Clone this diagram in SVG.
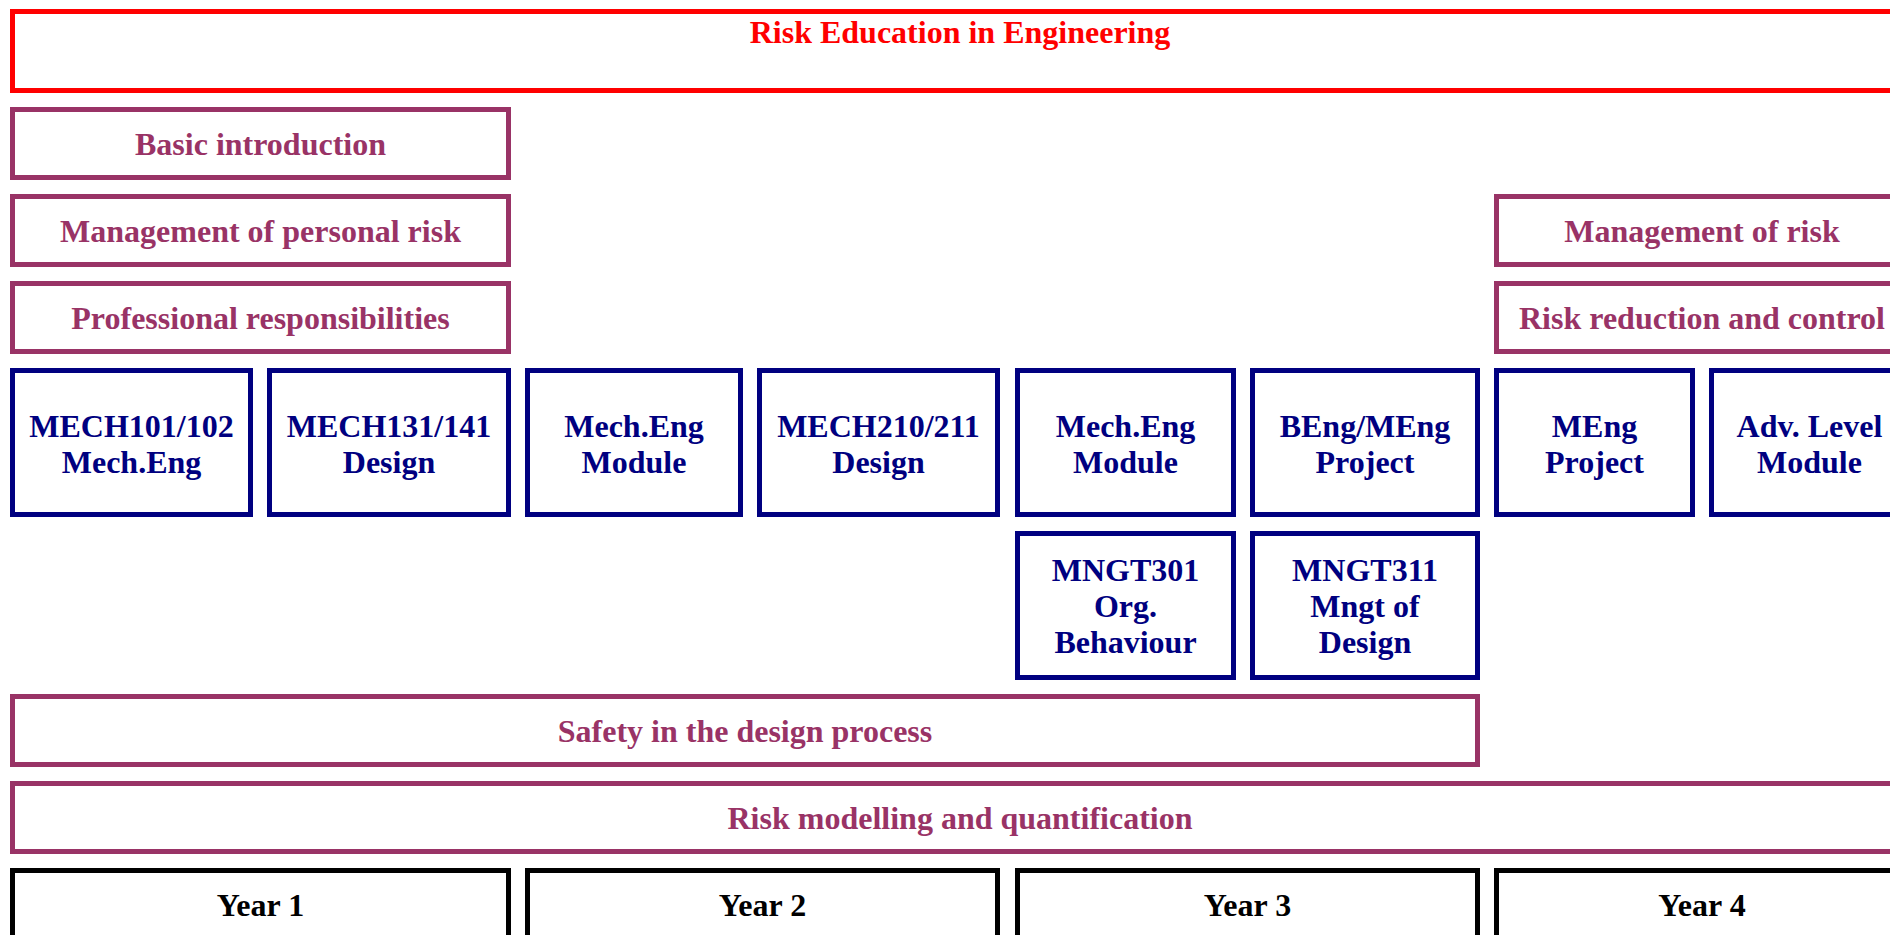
<svg xmlns="http://www.w3.org/2000/svg" width="1890" height="935" viewBox="0 0 1890 935">
<style>
rect{fill:#fff;stroke-width:5}
.t{stroke:#ff0000}
.p{stroke:#993366}
.c{stroke:#000080}
.y{stroke:#000}
text{font-family:"Liberation Serif","Times New Roman",serif;font-weight:bold;font-size:32px;text-anchor:middle}
.tt{fill:#ff0000}
.pt{fill:#993366}
.ct{fill:#000080}
.yt{fill:#000}
</style>
<rect width="1890" height="935" style="fill:#fff;stroke:none"/>
<g id="title"><rect class="t" x="12.5" y="11.5" width="1895" height="79"/><text class="tt" x="960" y="43">Risk Education in Engineering</text></g>
<g id="basic"><rect class="p" x="12.5" y="109.5" width="496" height="68"/><text class="pt" x="260.5" y="155">Basic introduction</text></g>
<g id="personal"><rect class="p" x="12.5" y="196.5" width="496" height="68"/><text class="pt" x="260.5" y="242">Management of personal risk</text></g>
<g id="professional"><rect class="p" x="12.5" y="283.5" width="496" height="68"/><text class="pt" x="260.5" y="329">Professional responsibilities</text></g>
<g id="mgmtrisk"><rect class="p" x="1496.5" y="196.5" width="411" height="68"/><text class="pt" x="1702" y="242">Management of risk</text></g>
<g id="reduction"><rect class="p" x="1496.5" y="283.5" width="411" height="68"/><text class="pt" x="1702" y="329">Risk reduction and control</text></g>
<g id="mech101"><rect class="c" x="12.5" y="370.5" width="238" height="144"/><text class="ct" x="131.5" y="436.5">MECH101/102</text><text class="ct" x="131.5" y="472.5">Mech.Eng</text></g>
<g id="mech131"><rect class="c" x="269.5" y="370.5" width="239" height="144"/><text class="ct" x="389" y="436.5">MECH131/141</text><text class="ct" x="389" y="472.5">Design</text></g>
<g id="mod2"><rect class="c" x="527.5" y="370.5" width="213" height="144"/><text class="ct" x="634" y="436.5">Mech.Eng</text><text class="ct" x="634" y="472.5">Module</text></g>
<g id="mech210"><rect class="c" x="759.5" y="370.5" width="238" height="144"/><text class="ct" x="878.5" y="436.5">MECH210/211</text><text class="ct" x="878.5" y="472.5">Design</text></g>
<g id="mod3"><rect class="c" x="1017.5" y="370.5" width="216" height="144"/><text class="ct" x="1125.5" y="436.5">Mech.Eng</text><text class="ct" x="1125.5" y="472.5">Module</text></g>
<g id="bengproj"><rect class="c" x="1252.5" y="370.5" width="225" height="144"/><text class="ct" x="1365" y="436.5">BEng/MEng</text><text class="ct" x="1365" y="472.5">Project</text></g>
<g id="mengproj"><rect class="c" x="1496.5" y="370.5" width="196" height="144"/><text class="ct" x="1594.5" y="436.5">MEng</text><text class="ct" x="1594.5" y="472.5">Project</text></g>
<g id="advmod"><rect class="c" x="1711.5" y="370.5" width="196" height="144"/><text class="ct" x="1809.5" y="436.5">Adv. Level</text><text class="ct" x="1809.5" y="472.5">Module</text></g>
<g id="mngt301"><rect class="c" x="1017.5" y="533.5" width="216" height="144"/><text class="ct" x="1125.5" y="581">MNGT301</text><text class="ct" x="1125.5" y="617">Org.</text><text class="ct" x="1125.5" y="653">Behaviour</text></g>
<g id="mngt311"><rect class="c" x="1252.5" y="533.5" width="225" height="144"/><text class="ct" x="1365" y="581">MNGT311</text><text class="ct" x="1365" y="617">Mngt of</text><text class="ct" x="1365" y="653">Design</text></g>
<g id="safety"><rect class="p" x="12.5" y="696.5" width="1465" height="68"/><text class="pt" x="745" y="742">Safety in the design process</text></g>
<g id="modelling"><rect class="p" x="12.5" y="783.5" width="1895" height="68"/><text class="pt" x="960" y="829">Risk modelling and quantification</text></g>
<g id="year1"><rect class="y" x="12.5" y="870.5" width="496" height="68"/><text class="yt" x="260.5" y="916">Year 1</text></g>
<g id="year2"><rect class="y" x="527.5" y="870.5" width="470" height="68"/><text class="yt" x="762.5" y="916">Year 2</text></g>
<g id="year3"><rect class="y" x="1017.5" y="870.5" width="460" height="68"/><text class="yt" x="1247.5" y="916">Year 3</text></g>
<g id="year4"><rect class="y" x="1496.5" y="870.5" width="411" height="68"/><text class="yt" x="1702" y="916">Year 4</text></g>
<g id="connectors"/>
</svg>
